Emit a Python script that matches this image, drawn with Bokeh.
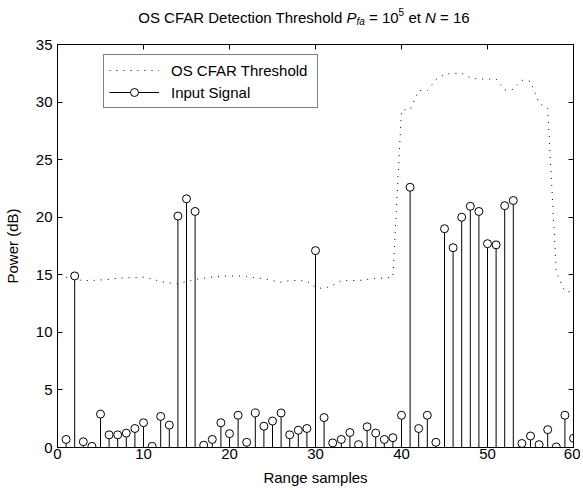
from bokeh.plotting import figure
from bokeh.layouts import column
from bokeh.models import (ColumnDataSource, Legend, LegendItem, LinearAxis, FixedTicker, Range1d)
from bokeh.core.properties import value
from bokeh.embed import file_html
from bokeh.resources import INLINE

# ---------------- data ----------------
samples = list(range(1, 61))
signal = [0.7, 14.9, 0.5, 0.1, 2.9, 1.1, 1.1, 1.25, 1.65, 2.15,
          0.1, 2.7, 1.95, 20.1, 21.6, 20.5, 0.2, 0.7, 2.15, 1.2,
          2.8, 0.45, 3.0, 1.85, 2.3, 3.0, 1.1, 1.5, 1.65, 17.1,
          2.6, 0.4, 0.7, 1.3, 0.25, 1.8, 1.25, 0.7, 0.85, 2.8,
          22.6, 1.65, 2.8, 0.45, 19.0, 17.35, 20.0, 20.95, 20.5, 17.7,
          17.6, 21.0, 21.45, 0.35, 1.0, 0.25, 1.55, 0.05, 2.8, 0.8]
threshold = [14.8, 14.6, 14.5, 14.5, 14.55, 14.6, 14.7, 14.75, 14.75, 14.8,
             14.65, 14.4, 14.3, 14.2, 14.4, 14.6, 14.7, 14.8, 14.85, 14.9,
             14.9, 14.85, 14.75, 14.65, 14.5, 14.35, 14.5, 14.5, 14.45, 13.9,
             13.8, 14.1, 14.5, 14.5, 14.5, 14.6, 14.7, 14.7, 14.8, 29.3,
             29.35, 31.0, 31.0, 31.95, 32.4, 32.5, 32.5, 32.1, 32.0, 32.0,
             32.0, 31.05, 31.1, 31.9, 31.8, 29.9, 29.45, 15.2, 13.55, 13.5]
baseline = [0.0] * len(samples)
x_ticks = [0, 10, 20, 30, 40, 50, 60]
y_ticks = [0, 5, 10, 15, 20, 25, 30, 35]

# title pieces: (text, style, size)
title_pieces = [("OS CFAR Detection Threshold", "normal", "15px"),
                ("P", "italic", "15px"),
                ("fa", "italic", "10px"),
                ("= 10", "normal", "15px"),
                ("5", "normal", "10px"),
                ("et", "normal", "15px"),
                ("N", "italic", "15px"),
                ("= 16", "normal", "15px")]

FONT = "Liberation Sans"
FS = "15px"
W = 580
LEFT = 57
RIGHT = 7
FRAME_W = W - LEFT - RIGHT
TITLE_H = 36
MAIN_H = 453

# ---------------- title strip (frame aligned with the main plot frame) ----------------
tp = figure(width=W, height=TITLE_H, output_backend="svg", toolbar_location=None,
            x_range=Range1d(0, FRAME_W), y_range=Range1d(0, TITLE_H),
            x_axis_location=None, y_axis_location=None, title=None,
            min_border_left=LEFT, min_border_right=RIGHT,
            min_border_top=0, min_border_bottom=0)
tp.xgrid.visible = False
tp.ygrid.visible = False
tp.outline_line_color = None
tp.background_fill_color = "white"
tp.border_fill_color = "white"

# layout: x anchor of the italic P (relative to frame left), offsets of each piece, baselines
XP = 289
piece_dx = [-4, 0, 10, 22.5, 52.1, 61.9, 78.6, 93.6]
piece_align = ["right", "left", "left", "left", "left", "left", "left", "left"]
piece_y = [19, 19, 15, 19, 25, 19, 19, 19]
for (txt, style, size), dx, al, y in zip(title_pieces, piece_dx, piece_align, piece_y):
    tp.text(x=[XP + dx], y=[y], text=[txt], text_font=value(FONT), text_font_size=value(size),
            text_font_style=style, text_color="black",
            text_baseline="alphabetic", text_align=al)

# ---------------- main plot ----------------
src = ColumnDataSource(dict(n=samples, sig=signal, thr=threshold, base=baseline))

p = figure(width=W, height=MAIN_H, output_backend="svg", toolbar_location=None,
           x_range=Range1d(0, 60), y_range=Range1d(0, 35),
           min_border_left=LEFT, min_border_top=8, min_border_right=RIGHT, min_border_bottom=42)
p.background_fill_color = "white"
p.border_fill_color = "white"
p.outline_line_color = "black"
p.outline_line_width = 1
p.xgrid.visible = False
p.ygrid.visible = False

thr_r = p.line("n", "thr", source=src, line_color="black", line_width=1, line_dash="1 6")
stem_r = p.segment(x0="n", y0="base", x1="n", y1="sig", source=src,
                   line_color="black", line_width=1)
circ_r = p.scatter("n", "sig", source=src, marker="circle", size=8,
                   fill_color="white", line_color="black", line_width=1)


def style_axis(ax):
    ax.major_tick_in = 5
    ax.major_tick_out = 0
    ax.minor_tick_in = 0
    ax.minor_tick_out = 0
    ax.axis_line_color = "black"
    ax.major_tick_line_color = "black"
    ax.major_label_text_font = FONT
    ax.major_label_text_font_size = FS
    ax.major_label_text_color = "black"
    ax.axis_label_text_font = FONT
    ax.axis_label_text_font_size = FS
    ax.axis_label_text_font_style = "normal"
    ax.axis_label_text_color = "black"


xa = p.xaxis[0]
ya = p.yaxis[0]
xa.ticker = FixedTicker(ticks=x_ticks)
ya.ticker = FixedTicker(ticks=y_ticks)
style_axis(xa)
style_axis(ya)
xa.axis_label = "Range samples"
ya.axis_label = "Power (dB)"
xa.major_label_standoff = 1
xa.axis_label_standoff = 7
ya.major_label_standoff = 5
ya.axis_label_standoff = 12

top = LinearAxis(ticker=FixedTicker(ticks=x_ticks),
                 major_label_overrides={t: "" for t in x_ticks})
right = LinearAxis(ticker=FixedTicker(ticks=y_ticks),
                   major_label_overrides={t: "" for t in y_ticks})
for ax in (top, right):
    style_axis(ax)
    ax.major_label_standoff = 0
p.add_layout(top, "above")
p.add_layout(right, "right")

legend = Legend(items=[LegendItem(label="OS CFAR Threshold", renderers=[thr_r]),
                       LegendItem(label="Input Signal", renderers=[stem_r, circ_r])],
                location=(46, 339), margin=0, padding=5, spacing=2,
                glyph_width=50, glyph_height=20, label_height=20, label_standoff=12,
                label_width=141,
                label_text_font=FONT, label_text_font_size=FS, label_text_color="black",
                border_line_color="black", border_line_width=1,
                background_fill_color="white", background_fill_alpha=1.0)
p.add_layout(legend, "center")

layout = column(tp, p, spacing=0)
open("out.html", "w").write(file_html(layout, INLINE))
